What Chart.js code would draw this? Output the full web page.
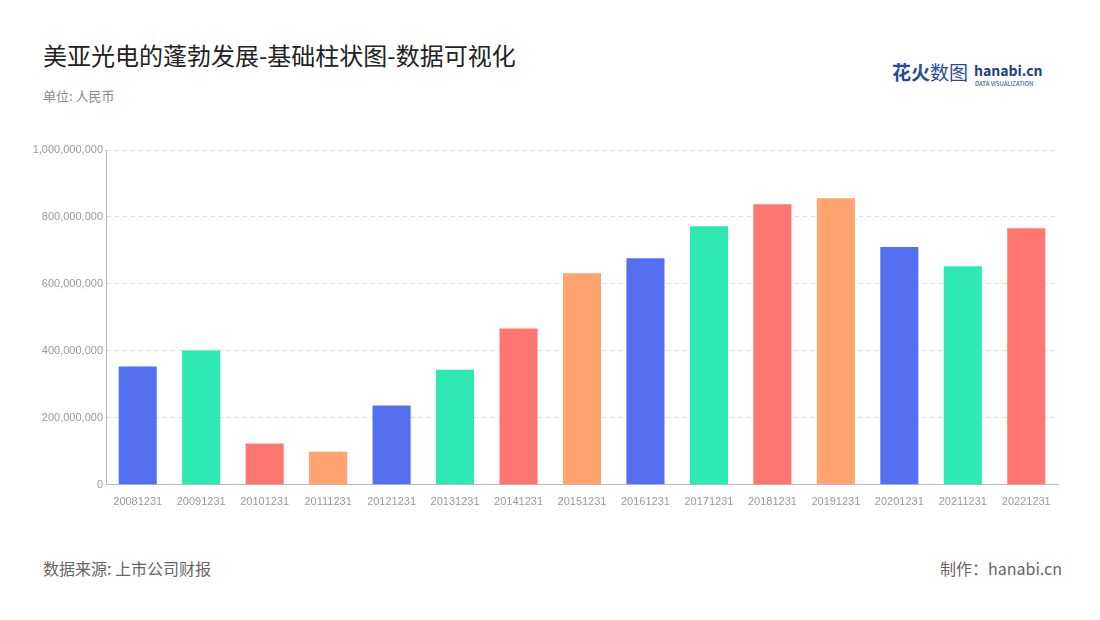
<!DOCTYPE html>
<html><head><meta charset="utf-8">
<script src="https://cdn.jsdelivr.net/npm/chart.js@4/dist/chart.umd.min.js"></script>
<style>
body{margin:0;width:1100px;height:620px;background:#fff;font-family:"Noto Sans CJK SC","Noto Sans",sans-serif;position:relative;overflow:hidden}
.t{position:absolute;white-space:nowrap}
#wrap{position:absolute;left:20px;top:130px;width:1050px;height:382px}
</style></head><body>
<div class="t" style="left:43px;top:37px;font-size:24px;color:#222">美亚光电的蓬勃发展-基础柱状图-数据可视化</div>
<div class="t" style="left:43px;top:86px;font-size:13px;color:#888">单位: 人民币</div>
<div class="t" style="left:892px;top:58px;font-size:19px;font-weight:bold;color:#2a4a9a">花火<span style="font-weight:normal">数图</span></div>
<div class="t" style="left:974px;top:60px;font-size:14px;font-weight:bold;color:#1c3c8c">hanabi.cn</div>
<div class="t" style="left:975px;top:79px;font-size:6px;color:#1c3c8c">DATA VISUALIZATION</div>
<div class="t" style="left:43px;top:556px;font-size:16px;color:#666">数据来源: 上市公司财报</div>
<div class="t" style="right:38px;top:556px;font-size:16px;color:#666">制作：hanabi.cn</div>
<div id="wrap"><canvas id="c"></canvas></div>
<script>
const categories=["20081231","20091231","20101231","20111231","20121231","20131231","20141231","20151231","20161231","20171231","20181231","20191231","20201231","20211231","20221231"];
const values=[353e6,401e6,123e6,99e6,237e6,344e6,467e6,632e6,677e6,772e6,838e6,856e6,710e6,653e6,766e6];
const palette=["#5470f0","#2de8b0","#ff7570","#ffa370"];
new Chart(document.getElementById('c'),{type:'bar',
data:{labels:categories,datasets:[{data:values,backgroundColor:categories.map((_,i)=>palette[i%4]),categoryPercentage:0.6,barPercentage:1}]},
options:{responsive:true,maintainAspectRatio:false,animation:false,
plugins:{legend:{display:false},tooltip:{enabled:false}},
layout:{padding:{top:20,right:12}},
scales:{
x:{grid:{display:false},border:{color:'#bbb'},ticks:{color:'#999',font:{size:11},maxRotation:0,autoSkip:false}},
y:{min:0,max:1e9,ticks:{stepSize:2e8,color:'#999',font:{size:11},callback:v=>v.toLocaleString('en-US')},
grid:{color:'#ddd',drawTicks:false},border:{display:true,color:'#bbb',dash:[4,4]},afterFit:s=>{s.width=86}}
}}});
</script></body></html>
